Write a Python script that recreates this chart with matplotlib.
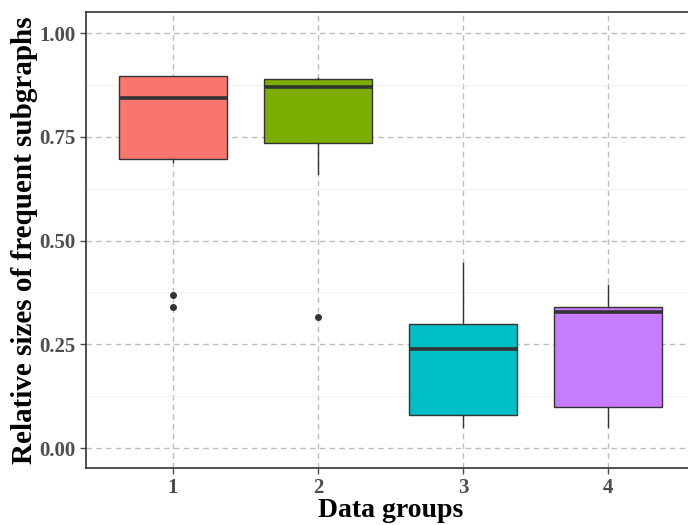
import matplotlib
matplotlib.use("Agg")
import matplotlib.pyplot as plt

# box statistics
groups = [1, 2, 3, 4]
q1 = [0.697, 0.736, 0.079, 0.098]
med = [0.843, 0.869, 0.238, 0.328]
q3 = [0.896, 0.889, 0.300, 0.340]
whislo = [0.690, 0.660, 0.051, 0.051]
whishi = [0.896, 0.892, 0.447, 0.394]
outliers = [[0.369, 0.340], [0.316], [], []]
colors = ["#F8766D", "#7CAE00", "#00BFC4", "#C77CFF"]

plt.rcParams["font.family"] = ["Liberation Serif", "DejaVu Serif"]

fig = plt.figure(figsize=(6.88, 5.25), dpi=100)
ax = fig.add_axes([86 / 688, 1 - 468 / 525, (695 - 86) / 688, (468 - 12) / 525])

stats = []
for i in range(len(groups)):
    stats.append(dict(med=med[i], q1=q1[i], q3=q3[i], whislo=whislo[i],
                      whishi=whishi[i], fliers=outliers[i], label=str(groups[i])))

bp = ax.bxp(stats, positions=groups, widths=0.75, patch_artist=True, showcaps=False,
            boxprops=dict(edgecolor="#333333", linewidth=1.0),
            medianprops=dict(color="#333333", linewidth=2.6),
            whiskerprops=dict(color="#333333", linewidth=1.0),
            flierprops=dict(marker="o", markerfacecolor="#333333", markeredgecolor="#333333",
                            markersize=4))
for patch, c in zip(bp["boxes"], colors):
    patch.set_facecolor(c)

ax.set_xlim(0.4, 4.6)
ax.set_ylim(-0.048, 1.0506)
ax.set_xticks(groups)
ax.set_xticklabels([str(g) for g in groups])
ax.set_yticks([0.0, 0.25, 0.5, 0.75, 1.0])
ax.set_yticklabels(["0.00", "0.25", "0.50", "0.75", "1.00"])
ax.set_yticks([0.125, 0.375, 0.625, 0.875], minor=True)
ax.tick_params(axis="y", which="minor", length=0)

ax.grid(True, which="major", color="#BDBDBD", linestyle=(0, (4, 3)), linewidth=1.0)
ax.grid(True, which="minor", axis="y", color="#F2F2F2", linestyle="-", linewidth=0.8)
ax.set_axisbelow(True)

for s in ax.spines.values():
    s.set_color("#333333")
    s.set_linewidth(1.2)

ax.tick_params(axis="both", which="major", length=4, width=1, color="#4D4D4D",
               labelcolor="#4D4D4D", labelsize=15)
for lab in ax.get_xticklabels() + ax.get_yticklabels():
    lab.set_fontweight("bold")

ax.set_xlabel("Data groups", fontsize=20, fontweight="bold", labelpad=0)
ax.set_ylabel("Relative sizes of frequent subgraphs", fontsize=21, fontweight="bold", labelpad=1)

fig.savefig("out.png", dpi=100)
